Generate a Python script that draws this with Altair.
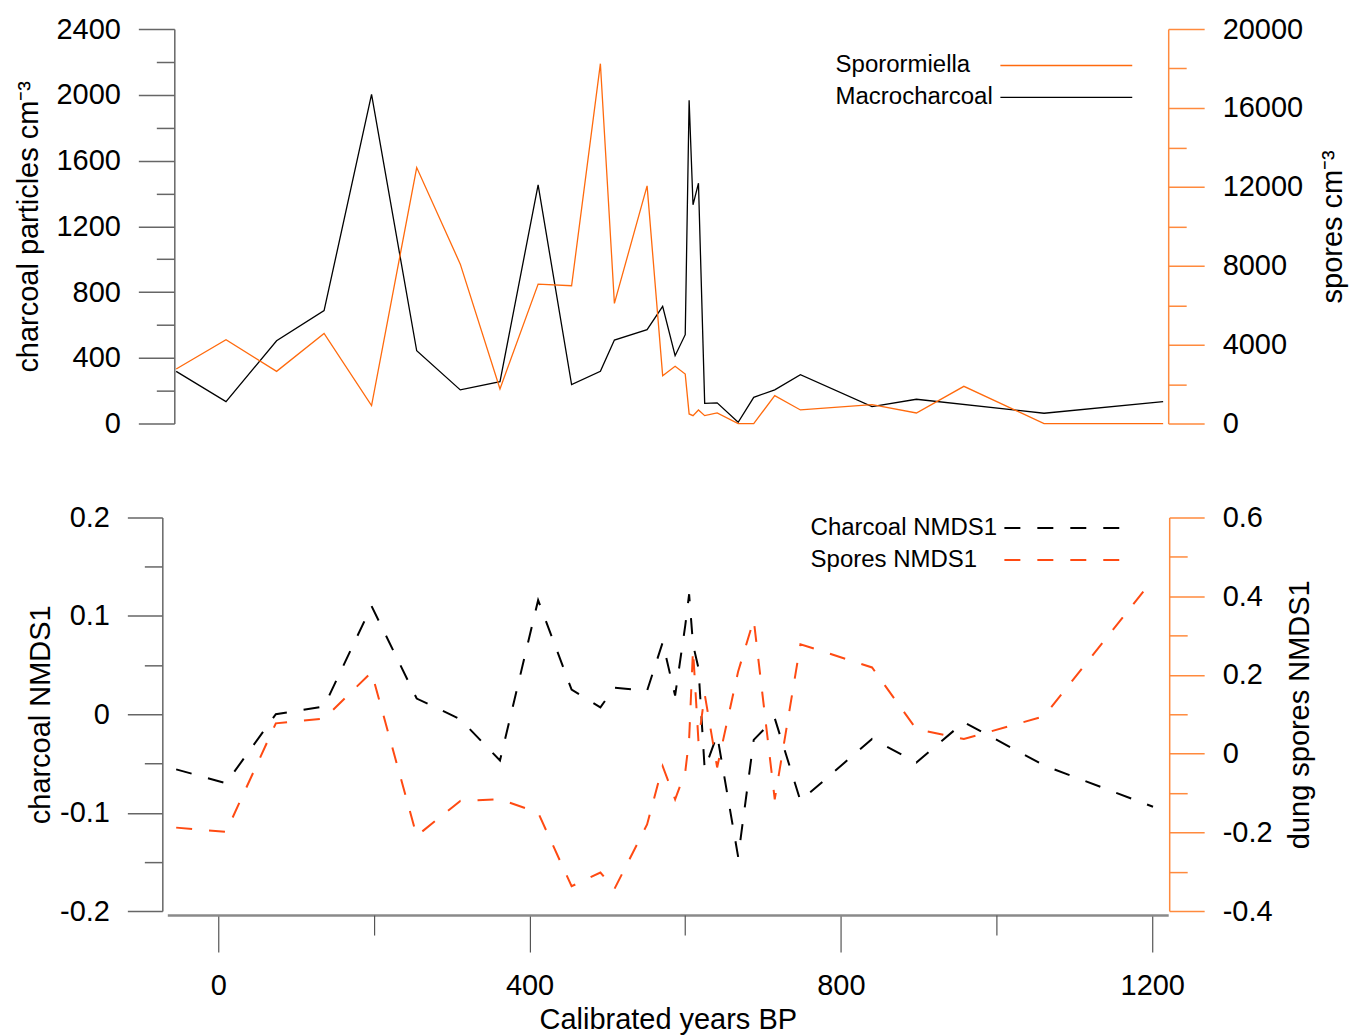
import altair as alt
import pandas as pd

# ---------------- data ----------------
charcoal_age = [-54, 10, 75, 136, 197, 255, 311, 362, 411, 454, 491, 509, 551, 571, 587,
                600, 605, 610, 617, 625, 641, 668, 688, 715, 748, 840, 897, 1061, 1214]
charcoal_conc = [318, 134, 504, 687, 2003, 443, 205, 255, 1452, 237, 318, 508, 571, 713, 413,
                 541, 1967, 1331, 1462, 123, 126, 8, 160, 205, 298, 103, 148, 63, 134]

spores_age = [-54, 10, 75, 136, 197, 255, 311, 362, 411, 454, 491, 509, 551, 571, 587,
              600, 605, 610, 617, 625, 641, 668, 688, 715, 748, 840, 897, 958, 1061, 1214]
spores_conc = [2770, 4253, 2648, 4572, 911, 12979, 8084, 1755, 7072, 6987, 18245, 6093, 12050, 2430, 2903,
               2510, 490, 405, 690, 405, 540, 0, 0, 1418, 692, 962, 540, 1890, 0, 0]

nmds_age = [-54, 10, 74, 136, 197, 255, 311, 362, 411, 454, 491, 509, 551, 571, 587,
            600, 605, 610, 617, 625, 641, 668, 688, 715, 748, 840, 897, 958, 1061, 1201]
charcoal_nmds1 = [-0.056, -0.070, 0.0, 0.008, 0.11, 0.016, -0.005, -0.047, 0.116, 0.025, 0.007, 0.027,
                  0.024, 0.073, 0.019, 0.09, 0.122, 0.071, 0.047, -0.056, -0.021, -0.145, -0.026,
                  -0.004, -0.088, -0.025, -0.049, -0.008, -0.052, -0.094]
spores_nmds1 = [-0.188, -0.199, 0.077, 0.089, 0.207, -0.209, -0.12, -0.116, -0.150, -0.337, -0.302,
                -0.344, -0.18, -0.032, -0.116, -0.047, 0.037, 0.265, 0.031, 0.151, -0.035, 0.209,
                0.34, -0.116, 0.278, 0.219, 0.062, 0.037, 0.095, 0.443]

top_series = ["Sporormiella", "Macrocharcoal"]
bottom_series = ["Charcoal NMDS1", "Spores NMDS1"]

charcoal_major = [0, 400, 800, 1200, 1600, 2000, 2400]
charcoal_minor = [200, 600, 1000, 1400, 1800, 2200]
spores_major = [0, 4000, 8000, 12000, 16000, 20000]
spores_minor = [2000, 6000, 10000, 14000, 18000]
cnmds_major = [-0.2, -0.1, 0, 0.1, 0.2]
cnmds_minor = [-0.15, -0.05, 0.05, 0.15]
snmds_major = [-0.4, -0.2, 0, 0.2, 0.4, 0.6]
snmds_minor = [-0.3, -0.1, 0.1, 0.3, 0.5]
age_major = [0, 400, 800, 1200]
age_minor = [200, 600, 1000]

# ---------------- styling ----------------
FONT = "Liberation Sans"
FS = 29
LFS = 24
ORANGE_LINE = "#ff6a0d"
ORANGE_DASH = "#ff4a12"
ORANGE_AXIS = "#ff8a3d"
GREY = "#666666"
W, HT, HB = 1002, 395, 394
XDOM = [-65.4, 1220.5]
DASH = [16, 17]
NUM_EXPR = "datum.value == 0 ? '0' : (datum.value < 0 ? '-' : '') + format(abs(datum.value), '.1f')"

top_char = pd.DataFrame({"age": charcoal_age, "value": charcoal_conc, "series": top_series[1]})
top_spor = pd.DataFrame({"age": spores_age, "value": spores_conc, "series": top_series[0]})
bot_char = pd.DataFrame({"age": nmds_age, "value": charcoal_nmds1, "series": bottom_series[0]})
bot_spor = pd.DataFrame({"age": nmds_age, "value": spores_nmds1, "series": bottom_series[1]})


def xenc(axis):
    return alt.X("age:Q", scale=alt.Scale(domain=XDOM, nice=False, zero=False), axis=axis)


def y_axis(orient, values, tick, color, offset, major, title=None, title_pad=0,
           fmt=None, expr=None, angle=None, baseline=None):
    kw = dict(orient=orient, values=values, tickSize=tick, tickColor=color, tickWidth=1.5,
              domain=major, domainColor=color, domainWidth=1.5, grid=False, offset=offset,
              labels=major, title=title)
    if major:
        kw.update(labelFont=FONT, labelFontSize=FS, labelColor="black", labelPadding=18,
                  labelOverlap=False, labelFlush=False)
        if fmt:
            kw["format"] = fmt
        if expr:
            kw["labelExpr"] = expr
    if title:
        kw.update(titleFont=FONT, titleFontSize=FS, titleFontWeight="normal",
                  titleColor="black", titlePadding=title_pad)
        if angle is not None:
            kw["titleAngle"] = angle
        if baseline:
            kw["titleBaseline"] = baseline
    return alt.Axis(**kw)


def yenc(domain, axis):
    return alt.Y("value:Q", scale=alt.Scale(domain=domain, nice=False, zero=False), axis=axis)


# ---------------- top panel ----------------
color_top = alt.Color(
    "series:N",
    scale=alt.Scale(domain=top_series, range=[ORANGE_LINE, "black"]),
    legend=alt.Legend(title=None, orient="none", legendX=822, legendY=24.5, padding=0,
                      symbolType="M0,0H22", symbolSize=144, symbolStrokeWidth=1.3,
                      labelOffset={"expr": "-177"},
                      labelFont=FONT, labelFontSize=LFS, labelColor="black",
                      labelLimit=400, rowPadding=8),
)

t1 = alt.Chart(top_char).mark_line(strokeWidth=1.3).encode(
    x=xenc(None),
    y=yenc([0, 2400], y_axis("left", charcoal_major, 36, GREY, -7, True,
                             title="charcoal particles cm⁻³", title_pad=12, fmt="d")),
    color=color_top,
)
t2 = alt.Chart(top_char).mark_line(opacity=0).encode(
    x=xenc(None),
    y=yenc([0, 2400], y_axis("left", charcoal_minor, 18, GREY, -7, False)),
)
t3 = alt.Chart(top_spor).mark_line(strokeWidth=1.3).encode(
    x=xenc(None),
    y=yenc([0, 20000], y_axis("right", spores_major, 36, ORANGE_AXIS, 0, True,
                              title="spores cm⁻³", title_pad=16, fmt="d",
                              angle=270, baseline="top")),
    color=color_top,
)
t4 = alt.Chart(top_spor).mark_line(opacity=0).encode(
    x=xenc(None),
    y=yenc([0, 20000], y_axis("right", spores_minor, 18, ORANGE_AXIS, 0, False)),
)
top = alt.layer(t1, t2, t3, t4).resolve_scale(y="independent").properties(width=W, height=HT)

# ---------------- bottom panel ----------------
color_bot = alt.Color(
    "series:N",
    scale=alt.Scale(domain=bottom_series, range=["black", ORANGE_DASH]),
    legend=alt.Legend(title=None, orient="none", legendX=826, legendY=-1.5, padding=0,
                      symbolType="M0,0H19.5", symbolSize=144, symbolStrokeWidth=2,
                      symbolDash=DASH, labelOffset={"expr": "-206"},
                      labelFont=FONT, labelFontSize=LFS, labelColor="black",
                      labelLimit=400, rowPadding=8),
)

x_major = alt.Axis(orient="bottom", values=age_major, tickSize=37, tickColor="#555555",
                   tickWidth=1.2, domainColor="#8a8a8a", domainWidth=2.5, offset=4, grid=False,
                   labelFont=FONT, labelFontSize=FS, labelColor="black", labelPadding=20,
                   labelFlush=False, labelOverlap=False, format="d",
                   title="Calibrated years BP", titleFont=FONT, titleFontSize=FS,
                   titleFontWeight="normal", titleColor="black", titlePadding=5)
x_minor = alt.Axis(orient="bottom", values=age_minor, tickSize=20, tickColor="#555555",
                   tickWidth=1.2, domain=False, labels=False, offset=4, grid=False, title=None)

b1 = alt.Chart(bot_char).mark_line(strokeWidth=2, strokeDash=DASH).encode(
    x=xenc(x_major),
    y=yenc([-0.2, 0.2], y_axis("left", cnmds_major, 35, GREY, 5, True,
                               title="charcoal NMDS1", title_pad=4, expr=NUM_EXPR)),
    color=color_bot,
)
b2 = alt.Chart(bot_char).mark_line(opacity=0).encode(
    x=xenc(x_minor),
    y=yenc([-0.2, 0.2], y_axis("left", cnmds_minor, 18, GREY, 5, False)),
)
b3 = alt.Chart(bot_spor).mark_line(strokeWidth=2, strokeDash=DASH).encode(
    x=xenc(None),
    y=yenc([-0.4, 0.6], y_axis("right", snmds_major, 35, ORANGE_AXIS, 1, True,
                               title="dung spores NMDS1", title_pad=13, expr=NUM_EXPR,
                               angle=270, baseline="top")),
    color=color_bot,
)
b4 = alt.Chart(bot_spor).mark_line(opacity=0).encode(
    x=xenc(None),
    y=yenc([-0.4, 0.6], y_axis("right", snmds_minor, 18, ORANGE_AXIS, 1, False)),
)
bottom = (alt.layer(b1, b2, b3, b4)
          .resolve_scale(y="independent")
          .resolve_axis(x="independent")
          .properties(width=W, height=HB))

chart = (alt.vconcat(top, bottom, spacing=63)
         .resolve_scale(x="independent", y="independent", color="independent")
         .configure_view(stroke="transparent")
         .properties(padding={"left": 13.5, "top": 13.5, "right": 0, "bottom": -2},
                     background="white"))

chart.save("out.html", embed_options={"renderer": "svg", "actions": False})
